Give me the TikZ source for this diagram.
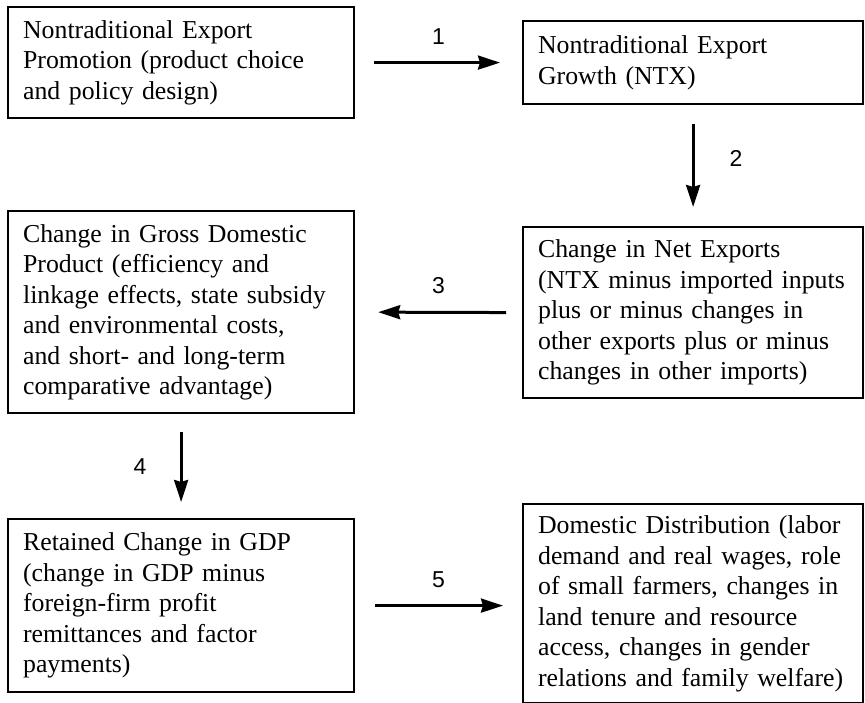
\documentclass[tikz,border=0pt]{standalone}
\usepackage{fontspec}
\setmainfont{Liberation Serif}
\setsansfont{Liberation Sans}
\usetikzlibrary{arrows.meta}
\begin{document}
\begin{tikzpicture}[x=1pt,y=-1pt,
  box/.style={draw, line width=2.2pt, anchor=north west, inner xsep=15pt, inner ysep=0pt,
    align=left, font=\fontsize{25.8}{30.5}\selectfont},
  lbox/.style={box, text width=316pt},
  rbox/.style={box, text width=310pt},
  arr/.style={line width=3pt, -{Stealth[length=22pt,width=14pt,inset=2pt]}},
  num/.style={font=\sffamily\fontsize{23}{25}\selectfont, inner sep=0pt}]
\useasboundingbox (0,0) rectangle (865,703);
\node[lbox, minimum height=111pt] (b1) at (7,6)
  {Nontraditional Export\\Promotion (product choice\\and policy design)};
\node[rbox, minimum height=83pt] (b2) at (522,20)
  {Nontraditional Export\\Growth (NTX)};
\node[lbox, minimum height=202pt] (b3) at (7,210)
  {Change in Gross Domestic\\Product (efficiency and\\linkage effects, state subsidy\\and environmental costs,\\and short- and long-term\\comparative advantage)};
\node[rbox, minimum height=171pt] (b4) at (522,226)
  {Change in Net Exports\\(NTX minus imported inputs\\plus or minus changes in\\other exports plus or minus\\changes in other imports)};
\node[lbox, minimum height=173pt] (b5) at (7,518)
  {Retained Change in GDP\\(change in GDP minus\\foreign-firm profit\\remittances and factor\\payments)};
\node[rbox, minimum height=199pt] (b6) at (522,503)
  {Domestic Distribution (labor\\demand and real wages, role\\of small farmers, changes in\\land tenure and resource\\access, changes in gender\\relations and family welfare)};
\draw[arr, shorten <=19pt, shorten >=22pt] (b1.east) -- node[num, yshift=26pt] {1} (b2.west);
\draw[arr, shorten <=19pt, shorten >=19pt] (b2.south) -- node[num, xshift=43pt, yshift=7pt] {2} (b4.north);
\draw[arr, shorten <=16pt, shorten >=23pt] (b4.west) -- node[num, yshift=27pt] {3} (b3.east);
\draw[arr, shorten <=18pt, shorten >=16pt] (b3.south) -- node[num, xshift=-41pt] {4} (b5.north);
\draw[arr, shorten <=20pt, shorten >=19pt] (b5.east) -- node[num, yshift=26pt] {5} (b5.east -| b6.west);
\end{tikzpicture}
\end{document}
